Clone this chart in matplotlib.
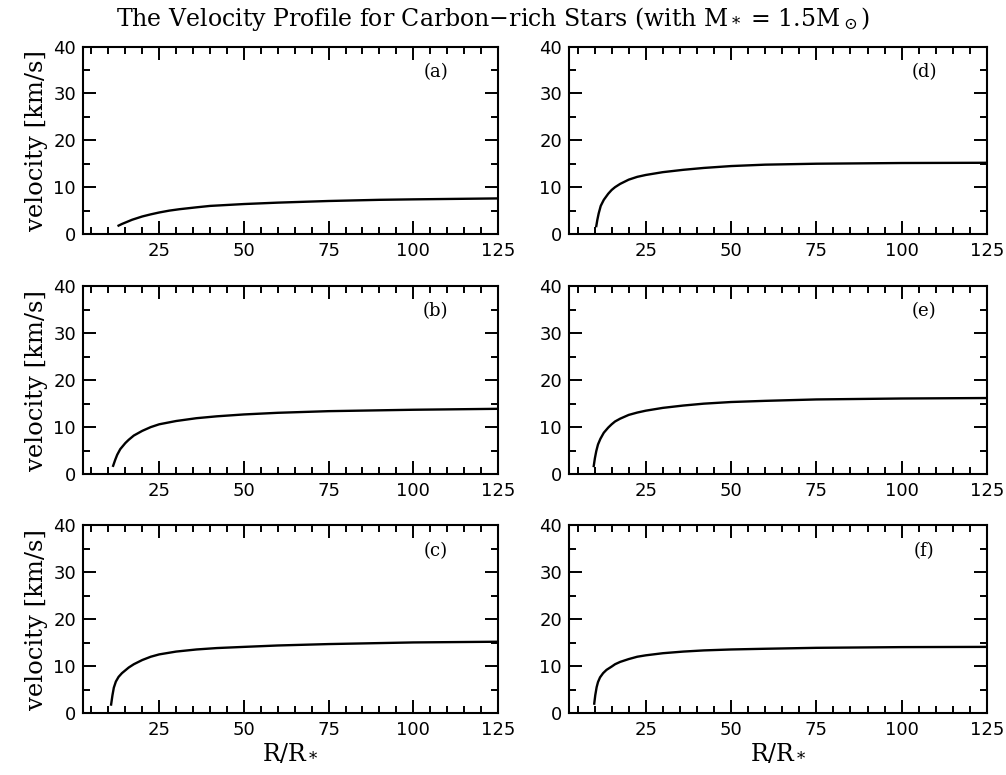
import matplotlib
matplotlib.use("Agg")
import matplotlib.pyplot as plt
from matplotlib.ticker import MultipleLocator

r_a = [13.0, 14, 15, 17, 20, 22.5, 25, 28, 31, 36, 40, 50, 60, 75, 90, 100, 125]
v_a = [1.8, 2.15, 2.45, 3.05, 3.75, 4.2, 4.6, 5.0, 5.3, 5.7, 6.0, 6.4, 6.7, 7.05, 7.3, 7.4, 7.6]

r_b = [11.4, 12, 12.6, 13.5, 15, 16, 17.5, 20, 22.5, 25, 30, 36, 42, 50, 60, 75, 100, 125]
v_b = [1.75, 3.0, 4.1, 5.3, 6.6, 7.3, 8.2, 9.2, 10.0, 10.6, 11.3, 11.9, 12.3, 12.7, 13.05, 13.4, 13.7, 13.9]

r_c = [10.8, 11.2, 11.6, 12.2, 13.0, 14, 15, 16, 17.5, 20, 22.5, 25, 30, 36, 42, 50, 60, 75, 100, 125]
v_c = [1.8, 3.8, 5.4, 6.7, 7.7, 8.5, 9.1, 9.7, 10.4, 11.3, 12.0, 12.5, 13.1, 13.55, 13.85, 14.1, 14.4, 14.7, 15.05, 15.2]

r_d = [10.5, 10.8, 11.2, 11.8, 12.7, 14, 15, 16, 17.5, 20, 22.5, 25, 30, 36, 42, 50, 60, 75, 100, 125]
v_d = [1.7, 3.0, 4.4, 6.0, 7.3, 8.6, 9.4, 10.0, 10.7, 11.6, 12.2, 12.6, 13.2, 13.7, 14.1, 14.5, 14.8, 15.0, 15.15, 15.2]

r_e = [9.75, 10.1, 10.5, 11.0, 11.7, 12.7, 14, 15, 16, 17.5, 20, 22.5, 25, 30, 36, 42, 50, 60, 75, 100, 125]
v_e = [1.7, 3.4, 4.9, 6.3, 7.5, 8.8, 9.9, 10.6, 11.2, 11.8, 12.6, 13.1, 13.5, 14.1, 14.6, 15.0, 15.35, 15.6, 15.9, 16.1, 16.2]

r_f = [9.9, 10.2, 10.6, 11.0, 11.6, 12.5, 13.5, 15, 16, 17.5, 20, 22.5, 25, 30, 36, 42, 50, 60, 75, 100, 125]
v_f = [2.0, 3.8, 5.5, 6.6, 7.6, 8.5, 9.2, 9.9, 10.4, 10.9, 11.5, 12.0, 12.3, 12.75, 13.1, 13.35, 13.55, 13.7, 13.9, 14.05, 14.1]

panel_labels = ["(a)", "(b)", "(c)", "(d)", "(e)", "(f)"]
profiles = [(r_a, v_a), (r_b, v_b), (r_c, v_c), (r_d, v_d), (r_e, v_e), (r_f, v_f)]

plt.rcParams["mathtext.fontset"] = "dejavuserif"
SERIF = "DejaVu Serif"

fig = plt.figure(figsize=(10.06, 7.75), dpi=100)

lefts = [0.0825, 0.5656]
widths = [0.4125, 0.4155]
bottoms = [0.698, 0.3884, 0.08]
height = 0.242

for i, (label, (r, v)) in enumerate(zip(panel_labels, profiles)):
    col, row = divmod(i, 3)
    ax = fig.add_axes([lefts[col], bottoms[row], widths[col], height])
    ax.plot(r, v, color="black", lw=1.7)
    ax.set_xlim(2.5, 125)
    ax.set_ylim(0, 40)
    ax.xaxis.set_major_locator(MultipleLocator(25))
    ax.xaxis.set_minor_locator(MultipleLocator(5))
    ax.yaxis.set_major_locator(MultipleLocator(10))
    ax.yaxis.set_minor_locator(MultipleLocator(5))
    ax.tick_params(which="both", direction="in", top=True, right=True,
                   width=1.4, labelsize=13)
    ax.tick_params(which="major", length=9.5)
    ax.tick_params(which="minor", length=5)
    ax.tick_params(axis="x", pad=6)
    ax.tick_params(axis="y", pad=5)
    for s in ax.spines.values():
        s.set_linewidth(1.5)
    ax.text(0.85, 0.866, label, transform=ax.transAxes, ha="center", va="center",
            fontsize=13, family=SERIF)
    if col == 0:
        ax.set_ylabel("velocity [km/s]", fontsize=17.5, family=SERIF, labelpad=4)
    if row == 2:
        ax.set_xlabel(r"R/R$_*$", fontsize=17, family=SERIF, labelpad=2)

fig.text(0.49, 0.976, r"The Velocity Profile for Carbon−rich Stars (with M$_*$ = 1.5M$_\odot$)",
         ha="center", va="center", fontsize=17, family=SERIF)

fig.savefig("out.png", dpi=100)
